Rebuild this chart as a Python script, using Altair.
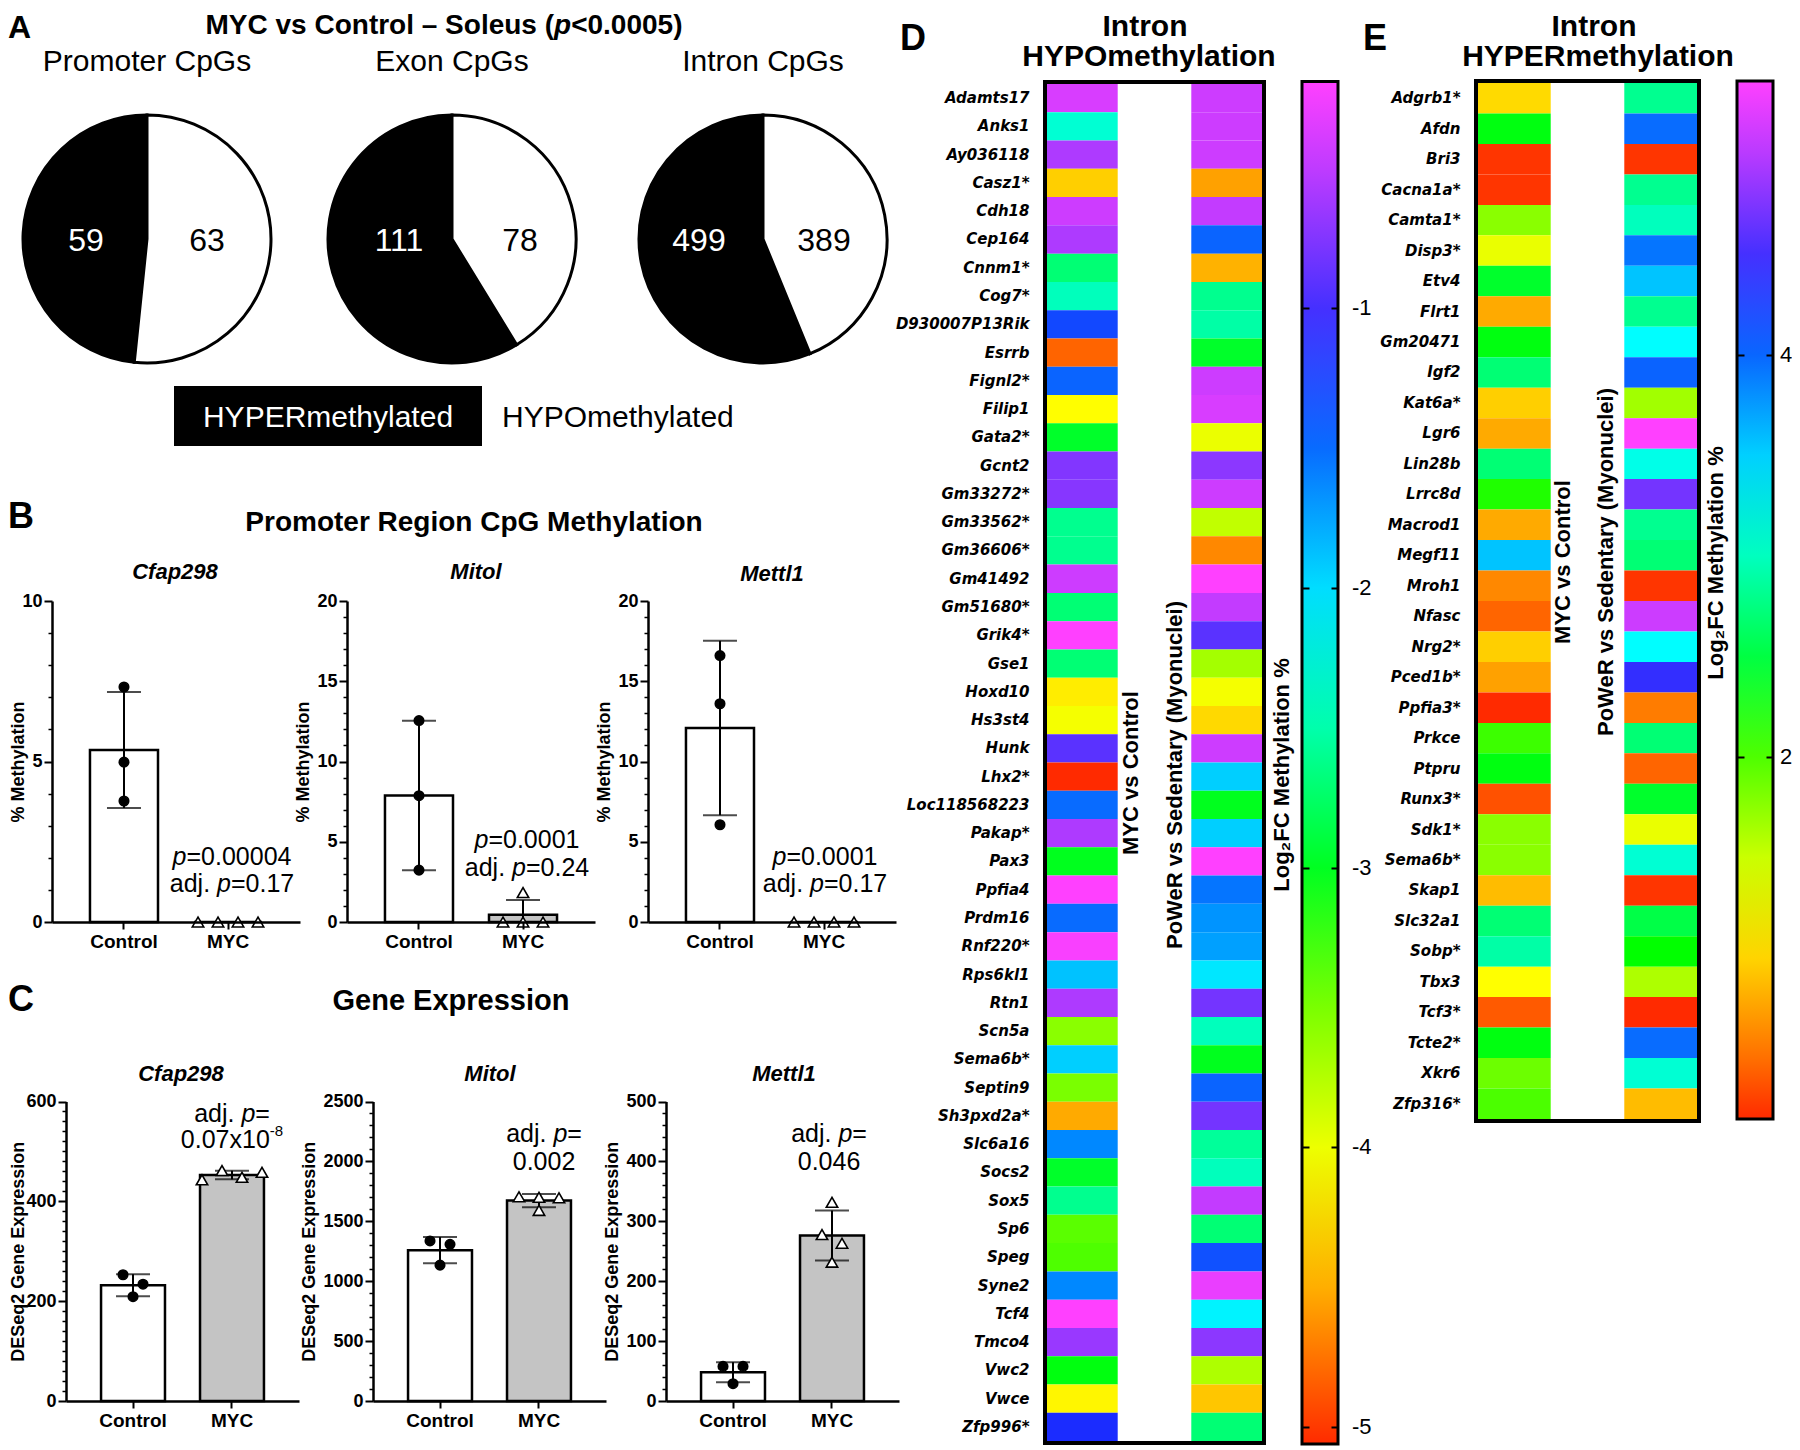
import altair as alt
import pandas as pd

# ------------------------------------------------------------------ data
pie_regions = ["Promoter CpGs", "Exon CpGs", "Intron CpGs"]
pie_hyper = [59, 111, 499]
pie_hypo = [63, 78, 389]
kinds = ["HYPERmethylated", "HYPOmethylated"]

genes3 = ["Cfap298", "Mitol", "Mettl1"]
groups = ["Control", "MYC"]

# Panel B : promoter CpG methylation (%)
b_control = [[7.32, 4.98, 3.77], [12.55, 7.87, 3.23], [16.6, 13.6, 6.06]]
b_myc = [[0.0, 0.0, 0.0, 0.0], [1.83, 0.0, 0.0, 0.0], [0.0, 0.0, 0.0, 0.0]]
b_control_lane = [[0, 0, 0], [0, 0, 0], [0, 0, 0]]
b_myc_lane = [[-3, -1, 1, 3], [0, -2, 0, 2], [-3, -1, 1, 3]]
b_p = ["0.00004", "0.0001", "0.0001"]
b_adj = ["0.17", "0.24", "0.17"]
b_ymax = [10, 20, 20]

# Panel C : DESeq2 gene expression
c_control = [[253, 234, 209], [1336, 1308, 1134], [57.8, 57.8, 28.9]]
c_myc = [[443, 461.6, 448, 458], [1705, 1700, 1696, 1591], [331.7, 277.8, 263.3, 231.7]]
c_control_lane = [[-1, 1, 0], [-1, 1, 0], [-1, 1, 0]]
c_myc_lane = [[-3, -1, 1, 3], [-2, 0, 2, 0], [0, -1, 1, 0]]
c_adj_mant = ["0.07x10", "0.002", "0.046"]
c_adj_exp = ["-8", "", ""]
c_ymax = [600, 2500, 500]
c_major = [200, 500, 100]
c_minor = [20, 100, 20]

# Panel D : intron hypomethylation (log2FC methylation %)
d_genes = ["Adamts17", "Anks1", "Ay036118", "Casz1*", "Cdh18", "Cep164", "Cnnm1*", "Cog7*",
           "D930007P13Rik", "Esrrb", "Fignl2*", "Filip1", "Gata2*", "Gcnt2", "Gm33272*",
           "Gm33562*", "Gm36606*", "Gm41492", "Gm51680*", "Grik4*", "Gse1", "Hoxd10", "Hs3st4",
           "Hunk", "Lhx2*", "Loc118568223", "Pakap*", "Pax3", "Ppfia4", "Prdm16", "Rnf220*",
           "Rps6kl1", "Rtn1", "Scn5a", "Sema6b*", "Septin9", "Sh3pxd2a*", "Slc6a16", "Socs2",
           "Sox5", "Sp6", "Speg", "Syne2", "Tcf4", "Tmco4", "Vwc2", "Vwce", "Zfp996*"]
d_myc = [-0.38, -2.33, -0.58, -4.33, -0.43, -0.58, -2.72, -2.43, -1.31, -4.82, -1.46, -4.09,
         -2.97, -0.77, -0.75, -2.63, -2.63, -0.43, -2.72, -0.19, -2.72, -4.18, -4.04, -0.92,
         -5.06, -1.50, -0.58, -3.01, -0.19, -1.50, -0.22, -1.89, -0.58, -3.55, -1.94, -3.50,
         -4.52, -1.65, -2.97, -2.63, -3.40, -3.36, -1.65, -0.19, -0.68, -3.06, -4.13, -1.16]
d_power = [-0.43, -0.43, -0.43, -4.57, -0.48, -1.46, -4.48, -2.63, -2.53, -2.97, -0.43, -0.38,
           -3.99, -0.73, -0.43, -3.79, -4.67, -0.19, -0.48, -0.92, -3.65, -4.04, -4.28, -0.43,
           -1.94, -3.01, -1.94, -0.19, -1.55, -1.70, -1.75, -2.04, -0.82, -2.43, -3.01, -1.46,
           -0.82, -2.58, -2.43, -0.48, -2.72, -1.36, -0.29, -2.09, -0.73, -3.70, -4.38, -2.72]
d_ticks = [-1, -2, -3, -4, -5]

# Panel E : intron hypermethylation
e_genes = ["Adgrb1*", "Afdn", "Bri3", "Cacna1a*", "Camta1*", "Disp3*", "Etv4", "Flrt1",
           "Gm20471", "Igf2", "Kat6a*", "Lgr6", "Lin28b", "Lrrc8d", "Macrod1", "Megf11", "Mroh1",
           "Nfasc", "Nrg2*", "Pced1b*", "Ppfia3*", "Prkce", "Ptpru", "Runx3*", "Sdk1*",
           "Sema6b*", "Skap1", "Slc32a1", "Sobp*", "Tbx3", "Tcf3*", "Tcte2*", "Xkr6", "Zfp316*"]
e_myc = [1.03, 2.32, 0.25, 0.25, 1.80, 1.34, 2.42, 0.77, 2.32, 2.68, 0.97, 0.77, 2.68, 2.16,
         0.77, 3.55, 0.61, 0.46, 0.97, 0.72, 0.20, 2.06, 2.32, 0.37, 1.80, 1.80, 0.87, 2.68,
         2.88, 1.23, 0.41, 2.32, 1.90, 2.01]
e_power = [2.78, 3.97, 0.25, 2.78, 2.99, 3.92, 3.55, 2.78, 3.30, 4.02, 1.70, 5.36, 3.19, 4.69,
           2.78, 2.68, 0.25, 5.10, 3.30, 4.43, 0.56, 2.68, 0.46, 2.42, 1.34, 3.09, 0.25, 2.52,
           2.26, 1.64, 0.20, 3.97, 3.09, 0.87]
e_ticks = [4, 2]

comps = ["MYC vs Control", "PoWeR vs Sedentary (Myonuclei)"]

# ------------------------------------------------------------------ layout helpers
W, H = 1784, 1440


def X(v):
    return v - 8


def Y(v):
    return v - 8


FONT = "Liberation Sans"
GENE_FONT = "DejaVu Sans"
RAINBOW = ["#ff2a00", "#ffa000", "#ffff00", "#99ff00", "#00ff00", "#00ff90",
           "#00ffff", "#0088ff", "#1a2cff", "#9a38ff", "#ff40ff"]

REG_W = {" ": 278, "(": 333, ")": 333, "-": 333, ".": 278, "<": 584, "=": 584,
         "x": 500, "a": 556, "d": 556, "j": 222, "p": 556}
BOLD_W = {" ": 278, "(": 333, ")": 333, "-": 333, ".": 278, "<": 584, "=": 584,
          "\u2013": 556, "C": 722, "M": 833, "S": 667, "Y": 667, "e": 556, "l": 278,
          "n": 611, "o": 611, "p": 611, "r": 389, "s": 556, "t": 333, "u": 611, "v": 556}
for _d in "0123456789":
    REG_W[_d] = 556
    BOLD_W[_d] = 556


def twidth(s, size, bold=False):
    tab = BOLD_W if bold else REG_W
    return sum(tab.get(c, 556) for c in s) * size / 1000.0


def txt(s, x, y, size, bold=False, italic=False, align="center", angle=0,
        color="black", font=FONT, baseline="middle"):
    kw = dict(text=s, fontSize=size, font=font, align=align, baseline=baseline, color=color)
    if bold:
        kw["fontWeight"] = "bold"
    if italic:
        kw["fontStyle"] = "italic"
    if angle:
        kw["angle"] = angle
    return alt.Chart(alt.Data(values=[{"k": 0}])).mark_text(**kw).encode(
        x=alt.value(X(x)), y=alt.value(Y(y)))


def rich(parts, cx, y, size, bold=False):
    total = sum(twidth(t, size, bold) for t, _ in parts)
    x = cx - total / 2.0
    out = []
    for t, it in parts:
        out.append(txt(t, x, y, size, bold=bold, italic=it, align="left"))
        x += twidth(t, size, bold)
    return out


def group_df(ctrl, myc, ctrl_lane, myc_lane):
    return pd.DataFrame({
        "group": ["Control"] * len(ctrl) + ["MYC"] * len(myc),
        "value": list(ctrl) + list(myc),
        "lane": list(ctrl_lane) + list(myc_lane),
    })


def bar_panel(df, ax, alen, pi, po, y0, ytop, ymax, major, minor, ytitle, title_right=None):
    def xs():
        return alt.Scale(domain=groups, range=[X(ax), X(ax + alen)],
                         paddingInner=pi, paddingOuter=po)

    def ys(clamp):
        return alt.Scale(domain=[0, ymax], range=[Y(y0), Y(ytop)], clamp=clamp,
                         nice=False, zero=True)

    step = alen / (2 - pi + 2 * po)
    bw = step * (1 - pi)
    xaxis = alt.Axis(orient="bottom", offset=Y(y0) - H, title=None, labelAngle=0,
                     labelFont=FONT, labelFontWeight="bold", labelFontSize=19,
                     labelColor="black", labelPadding=3, tickSize=7, tickWidth=2,
                     tickColor="black", domainColor="black", domainWidth=2.5, grid=False,
                     zindex=1)
    ykw = dict(orient="left", offset=-X(ax), values=major, title=ytitle, format="d",
               titleFont=FONT, titleFontSize=18, titleFontWeight="bold",
               titleColor="black", titlePadding=4, labelFont=FONT,
               labelFontWeight="bold", labelFontSize=18, labelColor="black",
               labelPadding=2, tickSize=8, tickWidth=2, tickColor="black",
               domainColor="black", domainWidth=2.5, grid=False, labelFlush=False, zindex=1)
    if title_right is not None:
        ykw["titleX"] = title_right - ax
    yaxis = alt.Axis(**ykw)
    minor_axis = alt.Axis(orient="left", offset=-X(ax), values=minor, labels=False,
                          domain=False, title=None, tickSize=4, tickWidth=1.5,
                          tickColor="black", grid=False)
    base = alt.Chart(df)
    bars = base.mark_bar(stroke="black", strokeWidth=2.5).encode(
        x=alt.X("group:N", scale=xs(), axis=xaxis),
        y=alt.Y("mean(value):Q", scale=ys(False), axis=yaxis),
        color=alt.Color("group:N", scale=alt.Scale(domain=groups, range=["white", "#c4c4c4"]),
                        legend=None))
    err = base.mark_errorbar(extent="stdev", ticks=True, size=34, thickness=2,
                             color="black").encode(
        x=alt.X("group:N", scale=xs(), axis=None),
        y=alt.Y("value:Q", scale=ys(True), axis=None))
    pts = base.mark_point(filled=True, stroke="black", strokeWidth=1.6, opacity=1).encode(
        x=alt.X("group:N", scale=xs(), axis=None),
        xOffset=alt.XOffset("lane:Q", scale=alt.Scale(domain=[-3, 3],
                                                      range=[bw / 2 - 30, bw / 2 + 30])),
        y=alt.Y("value:Q", scale=ys(False), axis=minor_axis),
        shape=alt.Shape("group:N", scale=alt.Scale(domain=groups, range=["circle", "triangle-up"]),
                        legend=None),
        fill=alt.Fill("group:N", scale=alt.Scale(domain=groups, range=["black", "white"]),
                      legend=None),
        size=alt.Size("group:N", scale=alt.Scale(domain=groups, range=[90, 130]), legend=None))
    return [bars, err, pts]


def heatmap(genes, v1, v2, x0, x1, pi, y0, y1, frame, axis_x, cbx, cby0, cby1,
            vmin, vmax, tick_vals, label_expr, lab_off):
    df = pd.DataFrame({"gene": genes + genes,
                       "comp": [comps[0]] * len(genes) + [comps[1]] * len(genes),
                       "value": v1 + v2})
    stops = [round(vmin + (vmax - vmin) * k / 10.0, 4) for k in range(11)]
    legend = alt.Legend(orient="none", legendX=X(cbx), legendY=Y(cby0), direction="vertical",
                        gradientLength=cby1 - cby0, gradientThickness=36,
                        gradientStrokeColor="black", gradientStrokeWidth=3, title=None,
                        values=tick_vals, labelExpr=label_expr, labelFont=FONT,
                        labelFontSize=22, labelColor="black", labelOffset=lab_off, padding=0,
                        labelOverlap=False)
    yaxis = alt.Axis(orient="left", offset=-X(axis_x), domain=False, ticks=False, tickSize=0,
                     labelPadding=14, labelFont=GENE_FONT, labelFontSize=15,
                     labelFontWeight="bold", labelFontStyle="italic", labelColor="black",
                     labelOverlap=False, labelLimit=400, title=None, grid=False)
    rect = alt.Chart(df).mark_rect().encode(
        x=alt.X("comp:N", scale=alt.Scale(domain=comps, range=[X(x0), X(x1)],
                                          paddingInner=pi, paddingOuter=0), axis=None),
        y=alt.Y("gene:N", scale=alt.Scale(domain=genes, range=[Y(y0), Y(y1)],
                                          paddingInner=0, paddingOuter=0), axis=yaxis),
        color=alt.Color("value:Q", scale=alt.Scale(domain=stops, range=RAINBOW,
                                                   interpolate="rgb", nice=False, zero=False),
                        legend=legend))
    fx0, fx1, fy0, fy1 = frame
    frm = alt.Chart(alt.Data(values=[{"k": 0}])).mark_rect(
        fillOpacity=0, stroke="black", strokeWidth=4).encode(
        x=alt.value(X(fx0)), x2=alt.value(X(fx1)), y=alt.value(Y(fy0)), y2=alt.value(Y(fy1)))
    ysc = alt.Scale(domain=[vmin, vmax], range=[Y(cby1), Y(cby0)], nice=False, zero=False)
    tdf = pd.DataFrame({"v": tick_vals})
    tick_r = alt.Chart(tdf).mark_point(opacity=0).encode(
        x=alt.value(X(cbx)),
        y=alt.Y("v:Q", scale=ysc, axis=alt.Axis(orient="right", offset=X(cbx) - W,
                                                 values=tick_vals, labels=False, domain=False,
                                                 tickSize=7, tickWidth=2, tickColor="black",
                                                 grid=False, title=None, zindex=2)))
    tick_l = alt.Chart(tdf).mark_point(opacity=0).encode(
        x=alt.value(X(cbx)),
        y=alt.Y("v:Q", scale=ysc, axis=alt.Axis(orient="left", offset=-X(cbx + 36),
                                                 values=tick_vals, labels=False, domain=False,
                                                 tickSize=7, tickWidth=2, tickColor="black",
                                                 grid=False, title=None, zindex=2)))
    return [rect, frm, tick_r, tick_l]


layers = []

# ------------------------------------------------------------------ panel A
layers.append(txt("A", 8, 28, 32, bold=True, align="left"))
layers += rich([("MYC vs Control \u2013 Soleus (", False), ("p", True), ("<0.0005)", False)],
               444, 26, 28, bold=True)
PIE_POS = [(147, 239, -61, 60), (452, 239, -53, 68), (763, 239, -64, 61)]
pie_df = pd.DataFrame({"region": pie_regions * 2,
                       "kind": [kinds[0]] * 3 + [kinds[1]] * 3,
                       "count": pie_hyper + pie_hypo})
for region, (cx, cy, dl, dr) in zip(pie_regions, PIE_POS):
    layers.append(txt(region, cx, 62, 30))
    base = alt.Chart(pie_df).transform_filter(alt.datum.region == region)
    layers.append(
        base.transform_calculate(ord="datum.kind == 'HYPOmethylated' ? 0 : 1")
        .mark_arc(outerRadius=124, stroke="black", strokeWidth=3)
        .encode(theta=alt.Theta("count:Q", stack="normalize"),
                order=alt.Order("ord:Q"),
                color=alt.Color("kind:N", scale=alt.Scale(domain=kinds, range=["black", "white"]),
                                legend=None),
                x=alt.value(X(cx)), y=alt.value(Y(cy))))
    layers.append(
        base.mark_text(font=FONT, fontSize=32, baseline="middle", align="center")
        .encode(x=alt.X("kind:N", scale=alt.Scale(type="point", domain=kinds,
                                                  range=[X(cx + dl), X(cx + dr)], padding=0),
                        axis=None),
                y=alt.value(Y(cy + 2)),
                text="count:Q",
                color=alt.Color("kind:N", scale=alt.Scale(domain=kinds, range=["white", "black"]),
                                legend=None)))
layers.append(alt.Chart(alt.Data(values=[{"k": 0}])).mark_rect(color="black").encode(
    x=alt.value(X(174)), x2=alt.value(X(482)), y=alt.value(Y(386)), y2=alt.value(Y(446))))
layers.append(txt(kinds[0], 328, 418, 30, color="white"))
layers.append(txt(kinds[1], 502, 418, 30, align="left"))

# ------------------------------------------------------------------ panel B
layers.append(txt("B", 8, 517, 36, bold=True, align="left"))
layers.append(txt("Promoter Region CpG Methylation", 474, 523, 28, bold=True))
B_AX = [52, 347, 648]
B_TITLE = [(175, 572), (476, 572), (772, 574)]
B_STATS = [(232, 857, 884), (527, 840, 868), (825, 857, 884)]
B_YTITLE_RIGHT = [27, None, None]
for i in range(3):
    df = group_df(b_control[i], b_myc[i], b_control_lane[i], b_myc_lane[i])
    ymax = b_ymax[i]
    major = list(range(0, ymax + 1, 5))
    minor = [v for v in range(0, ymax + 1) if v % 5]
    layers += bar_panel(df, B_AX[i], 248, 0.346, 0.365, 922, 601, ymax, major, minor,
                        "% Methylation", B_YTITLE_RIGHT[i])
    layers.append(txt(genes3[i], B_TITLE[i][0], B_TITLE[i][1], 22, bold=True, italic=True))
    cx, y1, y2 = B_STATS[i]
    layers += rich([("p", True), ("=" + b_p[i], False)], cx, y1, 25)
    layers += rich([("adj. ", False), ("p", True), ("=" + b_adj[i], False)], cx, y2, 25)

# ------------------------------------------------------------------ panel C
layers.append(txt("C", 8, 1000, 36, bold=True, align="left"))
layers.append(txt("Gene Expression", 451, 1001, 29, bold=True))
C_AX = [66, 373, 666]
C_TITLE = [(181, 1074), (490, 1074), (784, 1074)]
C_STATS = [(232, 1114, 1140), (544, 1134, 1162), (829, 1134, 1162)]
C_YTITLE_RIGHT = [27, None, None]
for i in range(3):
    df = group_df(c_control[i], c_myc[i], c_control_lane[i], c_myc_lane[i])
    ymax = c_ymax[i]
    major = list(range(0, ymax + 1, c_major[i]))
    minor = [v for v in range(0, ymax + 1, c_minor[i]) if v % c_major[i]]
    layers += bar_panel(df, C_AX[i], 233, 0.354, 0.354, 1401, 1101.5, ymax, major, minor,
                        "DESeq2 Gene Expression", C_YTITLE_RIGHT[i])
    layers.append(txt(genes3[i], C_TITLE[i][0], C_TITLE[i][1], 22, bold=True, italic=True))
    cx, y1, y2 = C_STATS[i]
    layers += rich([("adj. ", False), ("p", True), ("=", False)], cx, y1, 25)
    wm = twidth(c_adj_mant[i], 25)
    we = twidth(c_adj_exp[i], 15)
    x_start = cx - (wm + we) / 2.0
    layers.append(txt(c_adj_mant[i], x_start, y2, 25, align="left"))
    if c_adj_exp[i]:
        layers.append(txt(c_adj_exp[i], x_start + wm, y2 - 9, 15, align="left"))

# ------------------------------------------------------------------ panel D
layers.append(txt("D", 900, 39, 36, bold=True, align="left"))
layers.append(txt("Intron", 1145, 27, 30, bold=True))
layers.append(txt("HYPOmethylation", 1149, 57, 30, bold=True))
layers += heatmap(d_genes, d_myc, d_power, 1047, 1262, 0.51, 84, 1441,
                  (1045, 1264, 82, 1443), 1043, 1302, 81.5, 1444, -5.06, -0.19, d_ticks,
                  "'-' + abs(datum.value)", 14)
layers.append(txt(comps[0], 1131, 773, 22, bold=True, angle=270))
layers.append(txt(comps[1], 1175, 775, 22, bold=True, angle=270))
layers.append(txt("Log\u2082FC Methylation %", 1282, 775, 22, bold=True, angle=270))

# ------------------------------------------------------------------ panel E
layers.append(txt("E", 1363, 39, 36, bold=True, align="left"))
layers.append(txt("Intron", 1594, 27, 30, bold=True))
layers.append(txt("HYPERmethylation", 1598, 57, 30, bold=True))
layers += heatmap(e_genes, e_myc, e_power, 1478, 1697, 0.503, 83, 1119,
                  (1476, 1699, 81, 1121), 1474, 1737, 81, 1119, 0.20, 5.36, e_ticks,
                  "'' + datum.value", 7)
layers.append(txt(comps[0], 1563, 562, 22, bold=True, angle=270))
layers.append(txt(comps[1], 1606, 562, 22, bold=True, angle=270))
layers.append(txt("Log\u2082FC Methylation %", 1716, 563, 22, bold=True, angle=270))

chart = (
    alt.layer(*layers)
    .resolve_scale(x="independent", y="independent", color="independent",
                   fill="independent", xOffset="independent")
    .resolve_axis(x="independent", y="independent")
    .resolve_legend(color="independent")
    .properties(width=W, height=H, padding=0, background="white",
                autosize=alt.AutoSizeParams(type="none"))
    .configure_view(stroke=None)
)

chart.save("out.html", embed_options={"renderer": "svg", "actions": False})
